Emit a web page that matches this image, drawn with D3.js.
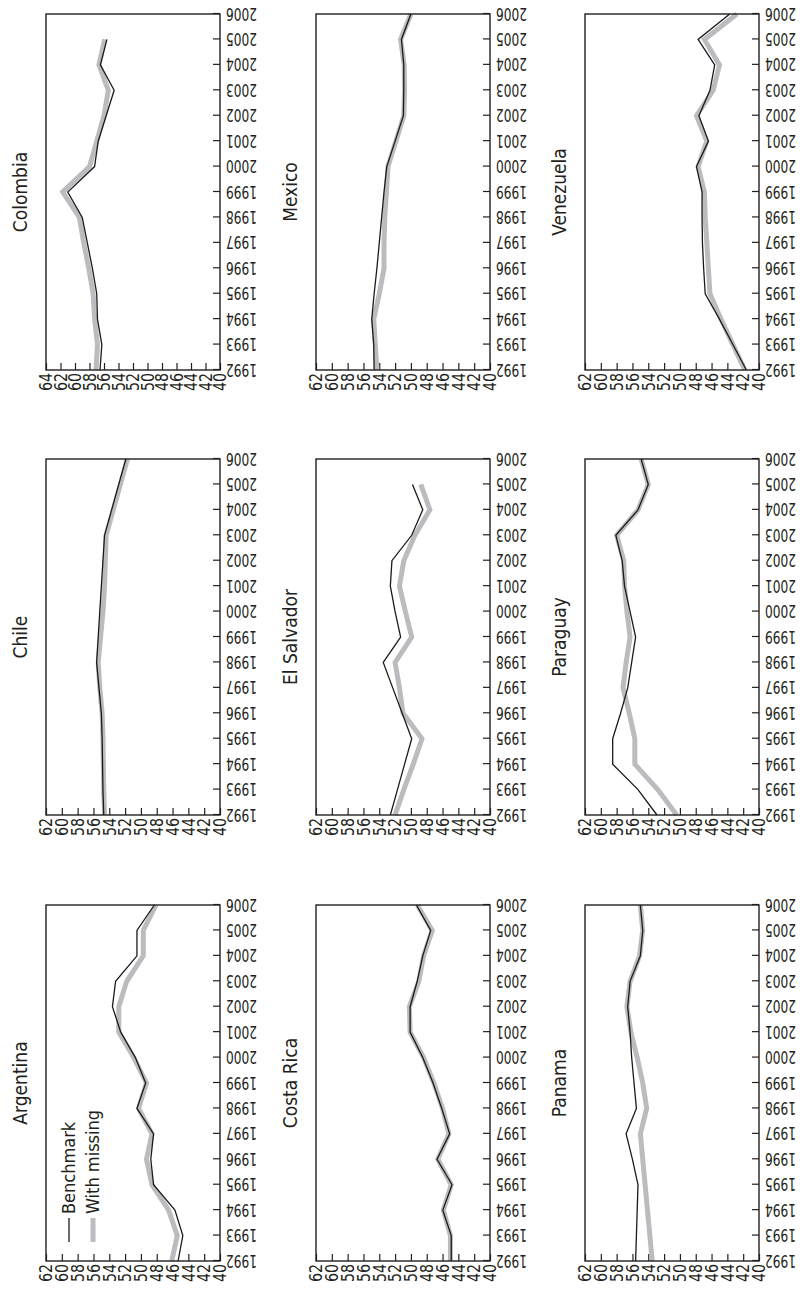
<!DOCTYPE html>
<html lang="en">
<head>
    <meta charset="UTF-8">
    <title>Benchmark vs. with missing</title>
    <script src="https://cdnjs.cloudflare.com/ajax/libs/d3/7.8.5/d3.min.js"></script>
    <style>
        html, body { margin: 0; padding: 0; background: #fff; }
        svg text { font-family: 'Liberation Sans Narrow', 'DejaVu Sans Condensed', sans-serif; fill: #231f20; }
    </style>
</head>
<body>
    <div id="chart"></div>
    <script>
        // years along the horizontal axis of every panel
        const years = [1992, 1993, 1994, 1995, 1996, 1997, 1998, 1999, 2000, 2001, 2002, 2003, 2004, 2005, 2006];
        const valueTicks = [40, 42, 44, 46, 48, 50, 52, 54, 56, 58, 60, 62];
        const valueTicksWide = [40, 42, 44, 46, 48, 50, 52, 54, 56, 58, 60, 62, 64];

        const countries = ['Argentina', 'Chile', 'Colombia', 'Costa Rica', 'El Salvador', 'Mexico', 'Panama', 'Paraguay', 'Venezuela'];

        // benchmark series / series estimated with missing data
        const argentinaBench = [45.3, 44.7, 45.7, 48.4, 48.75, 48.4, 50.5, 49.4, 50.7, 52.55, 53.6, 53.2, 50.5, 50.5, 48.3];
        const argentinaMiss  = [46.1, 45.4, 46.5, 48.6, 49.3, 48.6, 50.3, 49.3, 50.9, 52.8, 52.8, 51.8, 49.7, 49.7, 48.1];
        const chileBench = [54.7, 54.8, 54.85, 54.9, 55.0, 55.3, 55.6, 55.4, 55.2, 55.0, 54.8, 54.6, 53.7, 52.8, 51.9];
        const chileMiss  = [54.6, 54.7, 54.75, 54.8, 54.9, 55.2, 55.4, 55.1, 54.8, 54.6, 54.5, 54.4, 53.5, 52.6, 51.7];
        const colombiaBench = [56.55, 56.3, 56.9, 57.0, 57.6, 58.3, 59.0, 61.0, 57.3, 56.8, 55.7, 54.6, 56.5, 55.6, null];
        const colombiaMiss  = [57.1, 56.9, 57.3, 57.5, 58.1, 58.8, 59.4, 61.7, 58.0, 57.0, 56.0, 55.4, 56.7, 55.9, null];
        const costaRicaBench = [44.9, 44.9, 45.97, 44.8, 46.7, 45.1, 46.1, 47.2, 48.5, 50.1, 50.1, 49.2, 48.5, 47.5, 49.3];
        const costaRicaMiss  = [45.0, 45.0, 45.9, 44.9, 46.6, 45.2, 46.0, 47.1, 48.4, 50.1, 50.2, 49.0, 48.4, 47.3, 49.2];
        const elSalvadorBench = [52.6, 51.7, 50.8, 49.9, 51.1, 52.3, 53.5, 51.3, 52.0, 52.6, 52.4, 49.9, 48.5, 49.8, null];
        const elSalvadorMiss  = [52.0, 50.9, 49.7, 48.6, 51.0, 51.45, 52.0, 49.9, 50.7, 51.45, 50.9, 49.5, 47.6, 48.75, null];
        const mexicoBench = [54.65, 54.7, 54.95, 54.65, 54.3, 54.0, 53.7, 53.4, 53.05, 52.0, 50.95, 50.9, 50.9, 51.2, 50.0];
        const mexicoMiss  = [54.3, 54.5, 54.7, 54.0, 53.4, 53.4, 53.3, 53.1, 52.9, 51.9, 50.9, 50.8, 50.85, 51.3, 50.0];
        const panamaBench = [55.6, 55.5, 55.4, 55.3, 56.0, 56.8, 55.5, 55.8, 56.1, 56.3, 56.6, 56.3, 55.0, 54.7, 55.0];
        const panamaMiss  = [53.5, 53.8, 54.1, 54.4, 54.7, 55.0, 54.2, 54.7, 55.4, 56.2, 56.7, 56.3, 55.1, 54.7, 55.0];
        const paraguayBench = [52.9, 55.3, 58.5, 58.5, 57.5, 56.6, 56.1, 55.6, 56.3, 57.0, 57.3, 58.1, 55.3, 54.0, 54.9];
        const paraguayMiss  = [50.4, 52.8, 55.7, 55.7, 56.4, 57.2, 56.8, 56.3, 56.7, 57.0, 57.1, 58.0, 55.3, 54.0, 54.9];
        const venezuelaBench = [41.6, 43.3, 45.0, 46.8, 47.0, 47.15, 47.2, 47.2, 47.9, 46.4, 47.6, 46.2, 45.6, 47.7, 43.7];
        const venezuelaMiss  = [41.8, 43.3, 44.8, 46.2, 46.4, 46.6, 46.8, 46.9, 47.7, 46.6, 47.9, 45.8, 45.0, 46.9, 42.8];

        const panels = [
            { name: countries[0], bench: argentinaBench, miss: argentinaMiss, ticks: valueTicks },
            { name: countries[1], bench: chileBench, miss: chileMiss, ticks: valueTicks },
            { name: countries[2], bench: colombiaBench, miss: colombiaMiss, ticks: valueTicksWide },
            { name: countries[3], bench: costaRicaBench, miss: costaRicaMiss, ticks: valueTicks },
            { name: countries[4], bench: elSalvadorBench, miss: elSalvadorMiss, ticks: valueTicks },
            { name: countries[5], bench: mexicoBench, miss: mexicoMiss, ticks: valueTicks },
            { name: countries[6], bench: panamaBench, miss: panamaMiss, ticks: valueTicks },
            { name: countries[7], bench: paraguayBench, miss: paraguayMiss, ticks: valueTicks },
            { name: countries[8], bench: venezuelaBench, miss: venezuelaMiss, ticks: valueTicks }
        ];

        // page is portrait; the 3x3 grid is laid out landscape and turned a quarter
        const pageW = 800, pageH = 1295;
        const colLeft = [34, 480, 925];
        const rowTop = [46, 316, 585];
        const pw = 356, ph = 174;

        const svg = d3.select('#chart')
            .append('svg')
            .attr('width', pageW)
            .attr('height', pageH);

        svg.append('rect').attr('width', pageW).attr('height', pageH).attr('fill', '#fff');

        const root = svg.append('g')
            .attr('transform', `translate(0,${pageH}) rotate(-90)`);

        const x = d3.scaleLinear()
            .domain([years[0], years[years.length - 1]])
            .range([0, pw]);

        panels.forEach((p, i) => {
            const g = root.append('g')
                .attr('transform', `translate(${colLeft[i % 3]},${rowTop[Math.floor(i / 3)]})`);

            const y = d3.scaleLinear()
                .domain([p.ticks[0], p.ticks[p.ticks.length - 1]])
                .range([ph, 0]);

            // year axis, labels turned on their side and narrowed
            const xAxis = g.append('g')
                .attr('transform', `translate(0,${ph})`)
                .call(d3.axisBottom(x)
                    .tickValues(years)
                    .tickFormat(d3.format('d'))
                    .tickSizeInner(-7)
                    .tickSizeOuter(0));
            xAxis.select('.domain').remove();
            xAxis.selectAll('line').attr('stroke', '#231f20').attr('stroke-width', 1.2);
            xAxis.selectAll('text')
                .attr('transform', 'translate(0,6) rotate(-90) scale(0.8,1)')
                .attr('x', 0)
                .attr('y', 0)
                .attr('dy', '0.35em')
                .attr('text-anchor', 'end')
                .attr('font-size', 17);

            const yAxis = g.append('g')
                .call(d3.axisLeft(y)
                    .tickValues(p.ticks)
                    .tickSizeInner(-7)
                    .tickSizeOuter(0));
            yAxis.select('.domain').remove();
            yAxis.selectAll('line').attr('stroke', '#231f20').attr('stroke-width', 1.2);
            yAxis.selectAll('text')
                .attr('transform', 'translate(-3,0) scale(0.88,1)')
                .attr('x', 0)
                .attr('font-size', 18);

            const line = d3.line()
                .defined(d => d.v != null)
                .x(d => x(d.year))
                .y(d => y(d.v));

            const toPts = arr => years.map((yr, k) => ({ year: yr, v: arr[k] }));

            g.append('path')
                .datum(toPts(p.miss))
                .attr('d', line)
                .attr('fill', 'none')
                .attr('stroke', '#bbbcbf')
                .attr('stroke-width', 5);

            g.append('path')
                .datum(toPts(p.bench))
                .attr('d', line)
                .attr('fill', 'none')
                .attr('stroke', '#1c1a1b')
                .attr('stroke-width', 1.3);

            g.append('rect')
                .attr('width', pw)
                .attr('height', ph)
                .attr('fill', 'none')
                .attr('stroke', '#231f20')
                .attr('stroke-width', 1.4);

            g.append('text')
                .attr('x', pw / 2)
                .attr('y', -19)
                .attr('text-anchor', 'middle')
                .attr('font-size', 19)
                .text(p.name);

            // legend sits in the first panel only
            if (i === 0) {
                const legend = [
                    { label: 'Benchmark', color: '#1c1a1b', width: 1.3, yy: 23 },
                    { label: 'With missing', color: '#bbbcbf', width: 5, yy: 47 }
                ];
                legend.forEach(l => {
                    g.append('line')
                        .attr('x1', 19).attr('x2', 43)
                        .attr('y1', l.yy).attr('y2', l.yy)
                        .attr('stroke', l.color)
                        .attr('stroke-width', l.width);
                    g.append('text')
                        .attr('x', 47)
                        .attr('y', l.yy)
                        .attr('dy', '0.35em')
                        .attr('font-size', 18)
                        .text(l.label);
                });
            }
        });
    </script>
</body>
</html>
